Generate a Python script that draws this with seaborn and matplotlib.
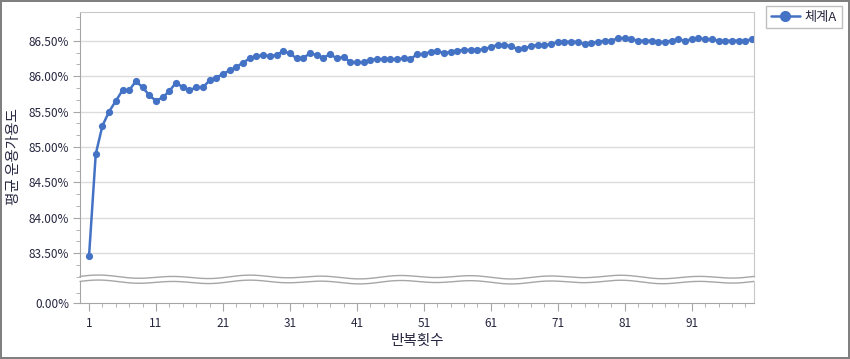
import numpy as np
import pandas as pd
import seaborn as sns
import matplotlib.pyplot as plt
from matplotlib.ticker import FuncFormatter, MultipleLocator, FixedLocator

# Data
iterations = list(range(1, 101))
availability = [
    83.46, 84.90, 85.30, 85.50, 85.65, 85.80, 85.80, 85.93, 85.84, 85.73,
    85.65, 85.70, 85.79, 85.91, 85.84, 85.80, 85.84, 85.84, 85.94, 85.98,
    86.03, 86.08, 86.13, 86.19, 86.25, 86.28, 86.30, 86.28, 86.30, 86.35,
    86.32, 86.25, 86.26, 86.32, 86.30, 86.26, 86.31, 86.25, 86.27, 86.20,
    86.195, 86.195, 86.23, 86.24, 86.24, 86.24, 86.24, 86.25, 86.24, 86.31,
    86.31, 86.345, 86.36, 86.32, 86.345, 86.36, 86.37, 86.37, 86.37, 86.38,
    86.41, 86.44, 86.44, 86.425, 86.38, 86.39, 86.425, 86.44, 86.44, 86.45,
    86.485, 86.485, 86.485, 86.485, 86.45, 86.47, 86.485, 86.50, 86.50, 86.535,
    86.535, 86.52, 86.50, 86.50, 86.50, 86.48, 86.485, 86.50, 86.52, 86.50,
    86.52, 86.535, 86.52, 86.52, 86.50, 86.50, 86.50, 86.50, 86.50, 86.52,
]
series_name = '체계A'
upper_ticks = [83.5, 84.0, 84.5, 85.0, 85.5, 86.0, 86.5]
x_ticks = [1, 11, 21, 31, 41, 51, 61, 71, 81, 91]

df = pd.DataFrame({'iter': iterations, 'value': availability, 'series': series_name})

sns.set_style('white')
plt.rcParams['font.family'] = ['Noto Sans CJK KR', 'DejaVu Sans']

W, H = 850, 359
fig = plt.figure(figsize=(W / 100, H / 100), dpi=100)
fig.patch.set_edgecolor('#808080')
fig.patch.set_linewidth(1.5)

def fx(px):
    return px / W

def fy(py):
    return 1 - py / H

left, right = 80, 754
ax = fig.add_axes([fx(left), fy(277), fx(right - left), fy(12) - fy(277)])
ax2 = fig.add_axes([fx(left), fy(303), fx(right - left), fy(282) - fy(303)])

blue = '#4472C4'
txt = '#262640'
for a in (ax, ax2):
    sns.lineplot(data=df, x='iter', y='value', hue='series', palette=[blue],
                 marker='o', markersize=5.2, markeredgewidth=0, linewidth=1.8,
                 ax=a, legend=(a is ax))
    a.set_xlim(-0.35, 100.3)
    a.set_xlabel('')
    a.set_ylabel('')
    for s in ('left', 'bottom'):
        a.spines[s].set_color('#A6A6A6')
    for s in ('top', 'right'):
        a.spines[s].set_color('#C8C8C8')

ax.set_ylim(83.165, 86.905)
ax.yaxis.set_major_locator(FixedLocator(upper_ticks))
ax.yaxis.set_minor_locator(MultipleLocator(0.5 / 3))
ax.yaxis.set_major_formatter(FuncFormatter(lambda v, p: f'{v:.2f}%'))
ax.grid(axis='y', color='#DCDCDC', linewidth=1)
ax.spines['bottom'].set_visible(False)
ax.tick_params(axis='x', bottom=False, labelbottom=False)
ax.tick_params(axis='y', which='major', left=True, length=5, color='#A6A6A6',
               labelsize=8.5, labelcolor=txt, pad=3)
ax.tick_params(axis='y', which='minor', left=True, length=3, color='#A6A6A6')

ax2.set_ylim(0, 1)
ax2.yaxis.set_major_locator(FixedLocator([0]))
ax2.yaxis.set_minor_locator(FixedLocator([0.5]))
ax2.yaxis.set_major_formatter(FuncFormatter(lambda v, p: f'{v:.2f}%'))
ax2.spines['top'].set_visible(False)
ax2.xaxis.set_major_locator(FixedLocator(x_ticks))
ax2.xaxis.set_minor_locator(MultipleLocator(2, offset=1))
ax2.tick_params(axis='y', which='major', left=True, length=5, color='#A6A6A6',
                labelsize=8.5, labelcolor=txt, pad=3)
ax2.tick_params(axis='y', which='minor', left=True, length=3, color='#A6A6A6')
ax2.tick_params(axis='x', which='major', bottom=True, length=6, color='#A6A6A6',
                labelsize=8.5, labelcolor=txt, pad=4)
ax2.tick_params(axis='x', which='minor', bottom=True, length=3, color='#A6A6A6')

# wavy break lines
t = np.linspace(0, 1, 400)
wave = 0.0035 * np.sin(t * 2 * np.pi * 9) + 0.002 * np.sin(t * 2 * np.pi * 4 + 1.0)
fig.lines.append(plt.Line2D(fx(left) + t * fx(right - left), fy(277) + wave,
                            transform=fig.transFigure, color='#A6A6A6', lw=1))
fig.lines.append(plt.Line2D(fx(left) + t * fx(right - left), fy(282) + wave,
                            transform=fig.transFigure, color='#A6A6A6', lw=1))

# legend outside
handles, labels = ax.get_legend_handles_labels()
ax.get_legend().remove()
for h in handles:
    h.set_markersize(8)
leg = fig.legend(handles, labels, loc='upper left',
                 bbox_to_anchor=(fx(766), fy(6)), frameon=True, fancybox=False,
                 edgecolor='#B0B0B0', fontsize=9.5, handlelength=2.2,
                 borderpad=0.35, handletextpad=0.4, borderaxespad=0)
for txtobj in leg.get_texts():
    txtobj.set_color(txt)

fig.text(fx(14), fy(157), '평균 운용가용도', rotation=90, ha='center', va='center',
         fontsize=10.5, color=txt)
fig.text(fx(417), fy(341), '반복횟수', ha='center', va='center',
         fontsize=10.5, color=txt)

fig.savefig('out.png', dpi=100)
